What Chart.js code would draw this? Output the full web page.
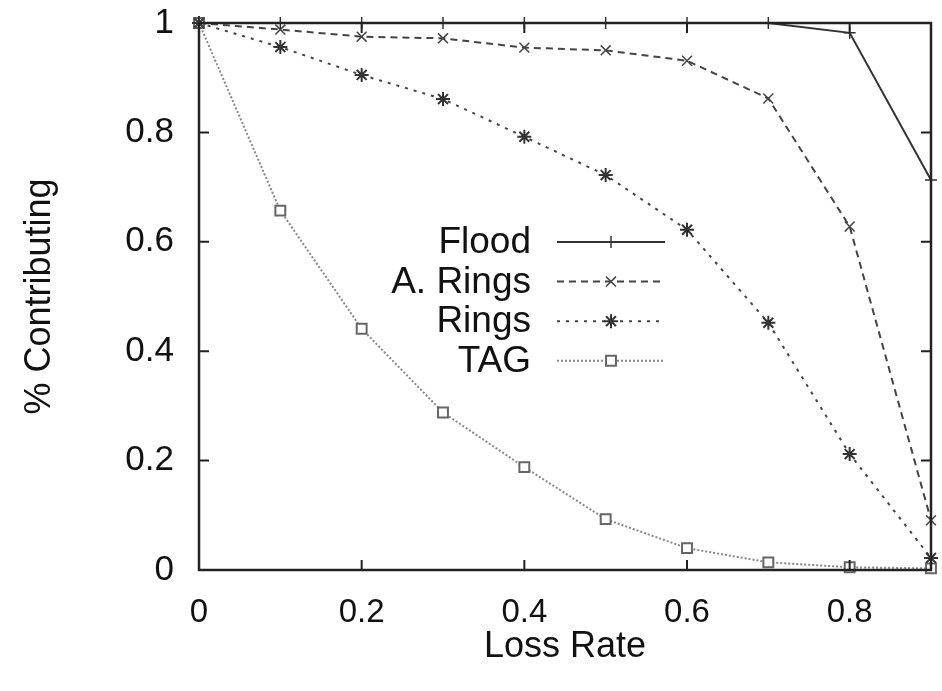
<!DOCTYPE html>
<html>
<head>
<meta charset="utf-8">
<script src="https://cdn.jsdelivr.net/npm/chart.js@4/dist/chart.umd.min.js"></script>
<style>
  html, body { margin: 0; padding: 0; background: #fff; }
  #wrap { width: 942px; height: 691px; }
</style>
</head>
<body>
<div id="wrap"><canvas id="chart" width="942" height="691"></canvas></div>
<script>
// loss rates on the x axis
const lossRates = [0, 0.1, 0.2, 0.3, 0.4, 0.5, 0.6, 0.7, 0.8, 0.9];

// fraction of nodes contributing, one array per protocol
const flood  = [1, 1, 1, 1, 1, 1, 1, 1, 0.982, 0.713];
const aRings = [1, 0.988, 0.975, 0.972, 0.955, 0.950, 0.931, 0.862, 0.628, 0.091];
const rings  = [1, 0.956, 0.905, 0.861, 0.792, 0.722, 0.622, 0.452, 0.212, 0.022];
const tag    = [1, 0.657, 0.441, 0.288, 0.188, 0.093, 0.040, 0.014, 0.005, 0.003];

const seriesNames = ["Flood", "A. Rings", "Rings", "TAG"];

// tick labels
const xTicks = [0, 0.2, 0.4, 0.6, 0.8];
const xTickLabels = ["0", "0.2", "0.4", "0.6", "0.8"];
const yTicks = [0, 0.2, 0.4, 0.6, 0.8, 1];
const yTickLabels = ["0", "0.2", "0.4", "0.6", "0.8", "1"];

const FONT = "'Liberation Sans', Arial, Helvetica, sans-serif";

function toPoints(values) {
    return lossRates.map((x, i) => ({ x: x, y: values[i] }));
}

// gnuplot-like frame with inward ticks and a right aligned key
const framePlugin = {
    id: "frame",
    afterDatasetsDraw(chart) {
        const { ctx, chartArea: a, scales } = chart;
        ctx.save();
        ctx.strokeStyle = "#222";
        ctx.lineWidth = 2.5;
        ctx.setLineDash([]);
        ctx.strokeRect(a.left, a.top, a.right - a.left, a.bottom - a.top);

        const len = 10;
        ctx.lineWidth = 2;
        ctx.beginPath();
        xTicks.forEach(v => {
            const px = scales.x.getPixelForValue(v);
            ctx.moveTo(px, a.bottom); ctx.lineTo(px, a.bottom - len);
            ctx.moveTo(px, a.top); ctx.lineTo(px, a.top + len);
        });
        yTicks.forEach(v => {
            const py = scales.y.getPixelForValue(v);
            ctx.moveTo(a.left, py); ctx.lineTo(a.left + len, py);
            ctx.moveTo(a.right, py); ctx.lineTo(a.right - len, py);
        });
        ctx.stroke();

        // key
        const textRight = 531, lineStart = 557, lineEnd = 665, firstRow = 242, rowGap = 39.6;
        ctx.font = "37px " + FONT;
        ctx.textAlign = "right";
        ctx.textBaseline = "middle";
        chart.data.datasets.forEach((ds, i) => {
            const y = firstRow + i * rowGap;
            ctx.fillStyle = "#111";
            ctx.fillText(ds.label, textRight, y + 1);
            ctx.strokeStyle = ds.borderColor;
            ctx.lineWidth = ds.borderWidth;
            ctx.setLineDash(ds.borderDash || []);
            ctx.beginPath();
            ctx.moveTo(lineStart, y);
            ctx.lineTo(lineEnd, y);
            ctx.stroke();
            ctx.setLineDash([]);
            ctx.strokeStyle = ds.pointBorderColor;
            ctx.fillStyle = ds.pointBackgroundColor;
            ctx.lineWidth = ds.pointBorderWidth;
            Chart.helpers.drawPoint(ctx, {
                pointStyle: ds.pointStyle,
                radius: ds.pointRadius,
                rotation: 0,
                borderWidth: ds.pointBorderWidth
            }, (lineStart + lineEnd) / 2, y);
        });
        ctx.restore();
    }
};

const ctx = document.getElementById("chart").getContext("2d");
new Chart(ctx, {
    type: "line",
    data: {
        datasets: [
            {
                label: seriesNames[0],
                data: toPoints(flood),
                borderColor: "#333",
                borderWidth: 2,
                pointStyle: "cross",
                pointRadius: 6,
                pointBorderWidth: 1.5,
                pointBorderColor: "#333",
                pointBackgroundColor: "#fff"
            },
            {
                label: seriesNames[1],
                data: toPoints(aRings),
                borderColor: "#444",
                borderWidth: 2,
                borderDash: [7, 5],
                pointStyle: "crossRot",
                pointRadius: 7,
                pointBorderWidth: 1.5,
                pointBorderColor: "#444",
                pointBackgroundColor: "#fff"
            },
            {
                label: seriesNames[2],
                data: toPoints(rings),
                borderColor: "#444",
                borderWidth: 2,
                borderDash: [3, 6],
                pointStyle: "star",
                pointRadius: 7,
                pointBorderWidth: 2,
                pointBorderColor: "#333",
                pointBackgroundColor: "#fff"
            },
            {
                label: seriesNames[3],
                data: toPoints(tag),
                borderColor: "#888",
                borderWidth: 2,
                borderDash: [2, 2],
                pointStyle: "rect",
                pointRadius: 7,
                pointBorderWidth: 2,
                pointBorderColor: "#666",
                pointBackgroundColor: "#fff"
            }
        ].map(ds => Object.assign(ds, { fill: false, tension: 0, clip: false }))
    },
    options: {
        responsive: false,
        animation: false,
        layout: { padding: { left: 0, top: 23, right: 11, bottom: 0 } },
        plugins: {
            legend: { display: false },
            tooltip: { enabled: false }
        },
        scales: {
            x: {
                type: "linear",
                min: 0,
                max: 0.9,
                afterBuildTicks: scale => { scale.ticks = xTicks.map(v => ({ value: v })); },
                afterFit: scale => { scale.height = 121; scale.paddingLeft = 0; scale.paddingRight = 0; },
                grid: { display: false },
                border: { display: false },
                ticks: {
                    padding: 15,
                    color: "#111",
                    font: { family: FONT, size: 33 },
                    maxRotation: 0,
                    callback: (v, i) => xTickLabels[i]
                },
                title: {
                    display: true,
                    text: "Loss Rate",
                    color: "#111",
                    font: { family: FONT, size: 36 },
                    padding: { top: 0, bottom: 22 }
                }
            },
            y: {
                type: "linear",
                min: 0,
                max: 1,
                afterBuildTicks: scale => { scale.ticks = yTicks.map(v => ({ value: v })); },
                afterFit: scale => { scale.width = 199; scale.paddingTop = 0; scale.paddingBottom = 0; },
                grid: { display: false },
                border: { display: false },
                ticks: {
                    padding: 17,
                    color: "#111",
                    font: { family: FONT, size: 35 },
                    callback: (v, i) => yTickLabels[i]
                },
                title: {
                    display: true,
                    text: "% Contributing",
                    color: "#111",
                    font: { family: FONT, size: 36 },
                    padding: { top: 18, bottom: 0 }
                }
            }
        }
    },
    plugins: [framePlugin]
});
</script>
</body>
</html>
